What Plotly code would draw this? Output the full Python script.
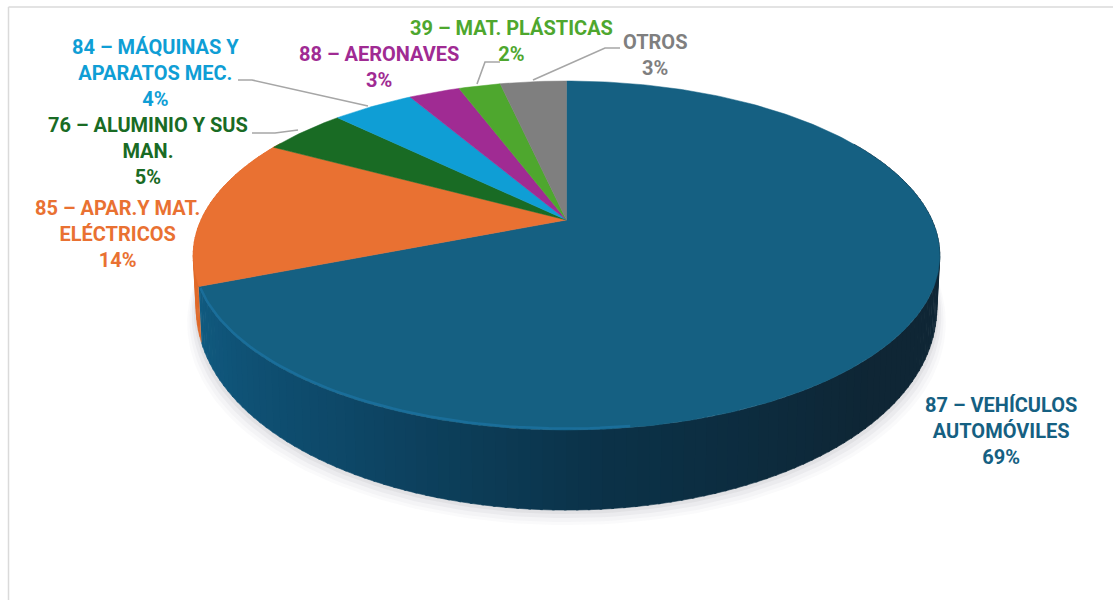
import numpy as np
import plotly.graph_objects as go

# ---- data ----
categories = ["87 - VEHÍCULOS AUTOMÓVILES", "85 - APAR.Y MAT. ELÉCTRICOS", "76 - ALUMINIO Y SUS MAN.",
              "84 - MÁQUINAS Y APARATOS MEC.", "88 - AERONAVES", "39 - MAT. PLÁSTICAS", "OTROS"]
values = [69.0, 13.9, 4.4, 4.3, 2.7, 2.2, 3.49]
colors = ["#156082", "#E97132", "#196B24", "#0F9ED5", "#A02B93", "#4EA72E", "#7F7F7F"]
label_texts = ["87 – VEHÍCULOS<br>AUTOMÓVILES<br>69%", "85 – APAR.Y MAT.<br>ELÉCTRICOS<br>14%",
               "76 – ALUMINIO Y SUS<br>MAN.<br>5%", "84 – MÁQUINAS Y<br>APARATOS MEC.<br>4%",
               "88 – AERONAVES<br>3%", "39 – MAT. PLÁSTICAS<br>2%", "OTROS<br>3%"]
label_colors = ["#156082", "#E97132", "#196B24", "#0F9ED5", "#A02B93", "#4EA72E", "#7F7F7F"]
label_x = [1001, 117, 148, 155, 379, 511, 655]
label_y = [431, 234, 151, 73, 67, 41, 55]
leaders = [None, None, [(252, 133), (275, 133), (298, 130)], [(238, 80), (252, 80), (368, 106)],
           None, [(500, 62), (485, 62), (477, 84)], [(620, 48), (605, 48), (533, 80)]]

# ---- pie geometry (perspective view of a disc, pixel axes) ----
CX, CY, A, H, K = 566.5, 220.0, 365.5, 167.3, 0.2036


def top(theta_deg):
    t = np.radians(theta_deg)
    X, Y = np.sin(t), np.cos(t)
    w = 1 + K * Y
    return CX + A * X / w, CY - H * Y / w


def bottom(theta_deg):
    x, y = top(theta_deg)
    Y = np.cos(np.radians(theta_deg))
    return CX + (x - CX) * 0.992, y + 45.2 - 34.8 * Y


def shade(theta, stops):
    th = [s[0] for s in stops]
    out = [np.interp(theta, th, [s[1][i] for s in stops]) for i in range(3)]
    return "rgb(%d,%d,%d)" % tuple(out)


blue_stops = [(60, (16, 40, 56)), (135, (15, 38, 53)), (175, (11, 50, 72)), (210, (14, 72, 104)), (250, (17, 92, 130))]
orange_stops = [(248, (222, 104, 40)), (300, (232, 112, 45))]

fig = go.Figure()
edges = np.cumsum([0] + values) / sum(values) * 360

# soft shadow under the disc
th_all = np.linspace(0, 360, 241)
for grow, dy, alpha in [(1.024, 15, 0.03), (1.018, 12, 0.04), (1.012, 8, 0.06), (1.006, 4, 0.08)]:
    bx, by = bottom(th_all)
    fig.add_trace(go.Scatter(x=CX + (bx - CX) * grow, y=by + dy, mode="lines", fill="toself",
                             fillcolor=f"rgba(110,110,120,{alpha})", line=dict(width=0), hoverinfo="skip"))

# side wall
STEP = 1.5
for th0 in np.arange(60, 300, STEP):
    th1 = th0 + STEP
    mid = (th0 + th1) / 2
    if th0 < edges[1] < th1:
        th1 = edges[1]
    col = shade(mid, orange_stops) if mid >= edges[1] else shade(mid, blue_stops)
    ts = np.linspace(th0, th1 + 0.3, 3)
    tx, ty = top(ts)
    bx, by = bottom(ts[::-1])
    fig.add_trace(go.Scatter(x=np.r_[tx, bx], y=np.r_[ty, by], mode="lines", fill="toself",
                             fillcolor=col, line=dict(width=0.6, color=col), hoverinfo="skip"))

# top face slices
for i, name in enumerate(categories):
    ts = np.linspace(edges[i], edges[i + 1], max(3, int(values[i] * 4)))
    tx, ty = top(ts)
    fig.add_trace(go.Scatter(x=np.r_[CX, tx, CX], y=np.r_[CY, ty, CY], mode="lines", fill="toself",
                             fillcolor=colors[i], line=dict(width=0.5, color=colors[i]), name=name, hoverinfo="name"))

# rim highlight on the front edge
ts = np.linspace(172, edges[1] - 1, 60)
tx, ty = top(ts)
fig.add_trace(go.Scatter(x=tx, y=ty - 1.5, mode="lines", line=dict(width=2.5, color="#1A6E9A"), hoverinfo="skip"))

# leader lines
for pts in leaders:
    if pts:
        fig.add_trace(go.Scatter(x=[p[0] for p in pts], y=[p[1] for p in pts], mode="lines",
                                 line=dict(width=1.6, color="#A6A6A6"), hoverinfo="skip"))

annotations = [dict(x=x, y=y, xref="x", yref="y", text=f"<b>{t}</b>", showarrow=False, align="center",
                    xanchor="center", yanchor="middle", font=dict(family="Roboto", size=20, color=c))
               for x, y, t, c in zip(label_x, label_y, label_texts, label_colors)]

frame = [dict(type="line", xref="x", yref="y", x0=8.5, x1=1113, y0=7, y1=7, line=dict(color="#DADADA", width=1.5)),
         dict(type="line", xref="x", yref="y", x0=8.5, x1=8.5, y0=7, y1=600, line=dict(color="#DADADA", width=1.5))]

fig.update_layout(width=1113, height=600, margin=dict(l=0, r=0, t=0, b=0), showlegend=False,
                  paper_bgcolor="white", plot_bgcolor="white",
                  xaxis=dict(range=[0, 1113], visible=False, fixedrange=True),
                  yaxis=dict(range=[600, 0], visible=False, fixedrange=True),
                  annotations=annotations, shapes=frame)
fig.write_html("out.html", config=dict(displayModeBar=False),
               post_script="document.body.style.margin='0';document.body.style.overflow='hidden';")
